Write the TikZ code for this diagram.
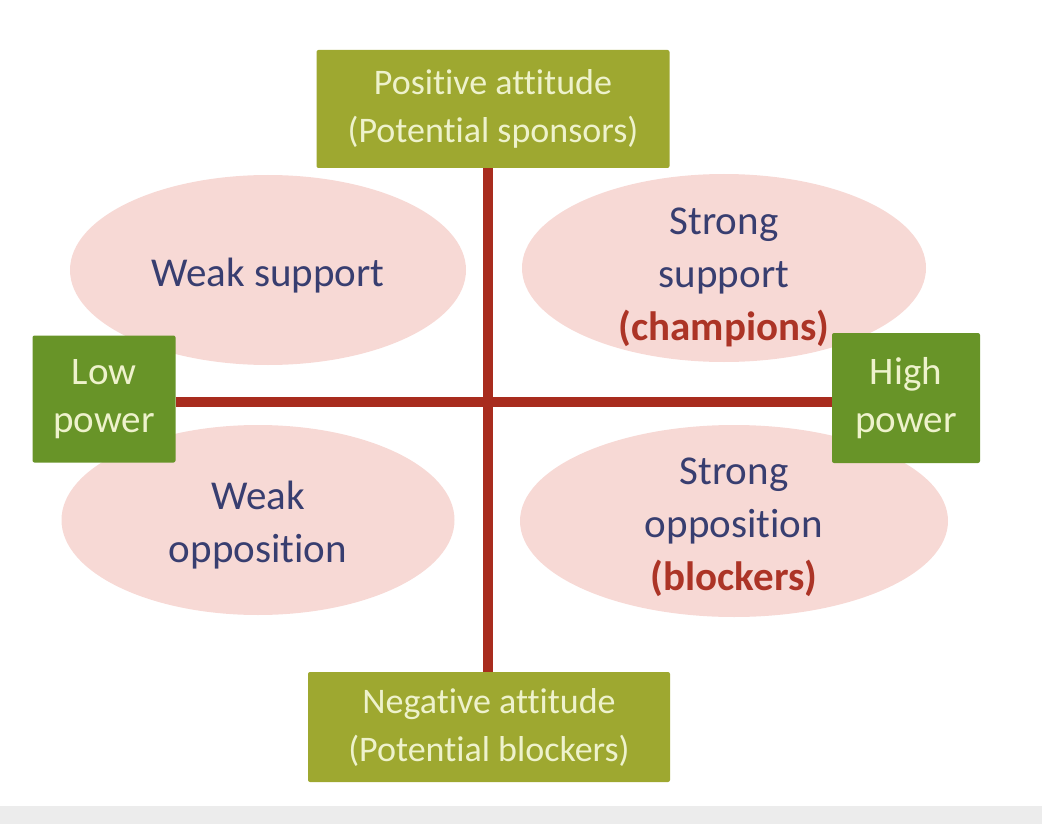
\documentclass[tikz,border=0pt]{standalone}
\usepackage{fontspec}
\setmainfont{Carlito}[Ligatures=NoCommon]
\usetikzlibrary{shapes.geometric,positioning}

\definecolor{olivebox}{RGB}{158,168,48}
\definecolor{greenbox}{RGB}{104,148,40}
\definecolor{boxtext}{RGB}{238,242,204}
\definecolor{blobfill}{RGB}{247,217,213}
\definecolor{blobtext}{RGB}{56,62,112}
\definecolor{hottext}{RGB}{172,52,38}
\definecolor{axisred}{RGB}{168,44,30}
\definecolor{band}{RGB}{236,236,236}

\begin{document}
\begin{tikzpicture}[x=1pt,y=-1pt]
 \tikzstyle{attitude}=[rectangle,rounded corners=2pt,fill=olivebox,text=boxtext,
   align=center,font=\fontsize{36}{48}\selectfont,inner sep=0pt]
 \tikzstyle{power}=[rectangle,rounded corners=2pt,fill=greenbox,text=boxtext,
   align=center,font=\fontsize{39}{48}\selectfont,inner sep=0pt]
 \tikzstyle{blob}=[ellipse,fill=blobfill,text=blobtext,align=center,
   font=\fontsize{41}{53}\selectfont,inner xsep=0pt,inner ysep=-40pt]
 \tikzstyle{axis}=[draw=axisred,line width=10pt]

\useasboundingbox (0,0) rectangle (1042,824);
\fill[band] (0,806) rectangle (1042,824);

% quadrants
\node[blob,text height=39pt,minimum width=396pt,minimum height=190pt] (ws) at (268,270) {Weak support};
\node[blob,text height=151pt,minimum width=404pt,minimum height=188pt] (ss) at (724,268)
  {Strong\\support\\\textbf{\color{hottext}(champions)}};
\node[blob,text height=91pt,minimum width=393pt,minimum height=190pt] (wo) at (258,520) {Weak\\opposition};
\node[blob,text height=146pt,minimum width=428pt,minimum height=192pt] (so) at (734,521)
  {Strong\\opposition\\\textbf{\color{hottext}(blockers)}};

% axes
\coordinate (c) at (488,402);
\node[attitude,minimum width=353pt,minimum height=118pt] (pos) at (493,109) {};
\node[attitude,minimum width=362pt,minimum height=110pt] (neg) at (489,727) {};
\path[axis] (c |- pos.south) -- (c |- neg.north);
\node[power,minimum width=143pt,minimum height=127pt] (lp) at (104,399) {Low\\power};
\node[power,minimum width=148pt,minimum height=130pt] (hp) at (906,398) {High\\power};
\path[axis] (lp.east |- c) -- (hp.west |- c);

\node[attitude] at (pos) {Positive attitude\\(Potential sponsors)};
\node[attitude] at (neg) {Negative attitude\\(Potential blockers)};
\end{tikzpicture}
\end{document}
